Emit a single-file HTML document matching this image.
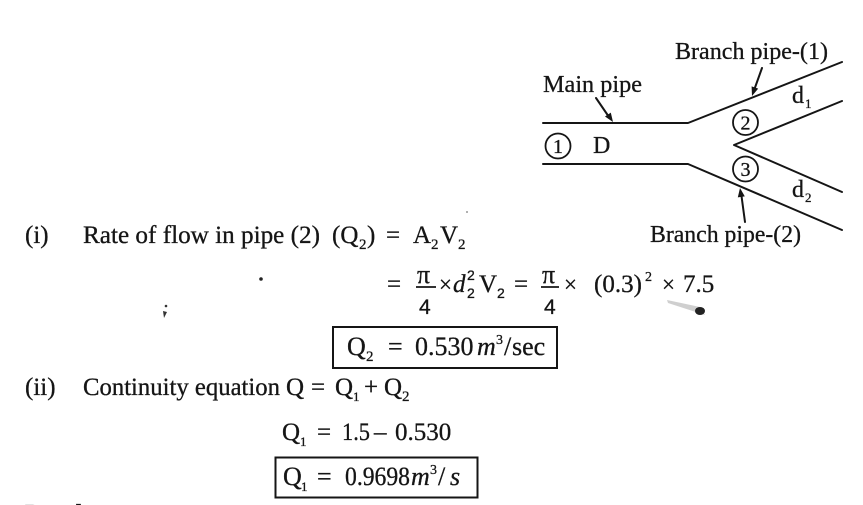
<!DOCTYPE html>
<html>
<head>
<meta charset="utf-8">
<style>
html,body{margin:0;padding:0;background:#fff;}
svg{display:block;}
text{font-family:"Liberation Serif","DejaVu Serif",serif;fill:#151515;stroke:#151515;stroke-width:0.3;}
.s{font-family:"Liberation Sans","DejaVu Sans",sans-serif;}
</style>
</head>
<body>
<svg width="863" height="505" viewBox="0 0 863 505" xmlns="http://www.w3.org/2000/svg">
<rect width="863" height="505" fill="#fff"/>

<!-- Diagram -->
<g stroke="#151515" stroke-width="2" fill="none" stroke-linecap="round" stroke-linejoin="round">
  <polyline points="543,123 688,123 842,62"/>
  <polyline points="543,164 688,164 842,230"/>
  <polyline points="842,101 734,145 842,192"/>
  <circle cx="558" cy="146" r="12.5" stroke-width="1.8"/>
  <circle cx="745.5" cy="122.5" r="12.5" stroke-width="1.8"/>
  <circle cx="745.5" cy="169" r="12.5" stroke-width="1.8"/>
  <line x1="596" y1="98" x2="609" y2="117"/>
  <line x1="762" y1="68" x2="754.5" y2="89"/>
  <line x1="745" y1="222" x2="741.5" y2="196"/>
</g>
<g fill="#151515">
  <polygon points="613,122 605,116.5 610.8,112.6"/>
  <polygon points="752,96 758.2,88.6 751.6,86.4"/>
  <polygon points="740,188 744.8,196.4 737.8,197.4"/>
</g>

<text x="675" y="59" font-size="24" textLength="153" lengthAdjust="spacingAndGlyphs">Branch pipe-(1)</text>
<text x="543" y="92" font-size="24" textLength="99" lengthAdjust="spacingAndGlyphs">Main pipe</text>
<text x="553" y="153" font-size="20">1</text>
<text x="740.5" y="129.5" font-size="20">2</text>
<text x="740.5" y="176" font-size="20">3</text>
<text x="593" y="153" font-size="24">D</text>
<text x="792" y="103" font-size="24">d</text>
<text x="805" y="108" font-size="13">1</text>
<text x="792" y="197" font-size="24">d</text>
<text x="805" y="202" font-size="13">2</text>
<text x="650" y="242" font-size="24" textLength="151" lengthAdjust="spacingAndGlyphs">Branch pipe-(2)</text>

<!-- Line (i) -->
<text x="25" y="243" font-size="25">(i)</text>
<text x="83" y="243" font-size="25" textLength="237" lengthAdjust="spacingAndGlyphs">Rate of flow in pipe (2)</text>
<text x="332" y="243" font-size="25">(Q</text>
<text x="359" y="249" font-size="15">2</text>
<text x="367" y="243" font-size="25">)</text>
<text x="386" y="243" font-size="25">=</text>
<text x="413" y="243" font-size="25">A</text>
<text x="431" y="249" font-size="15">2</text>
<text x="440" y="243" font-size="25">V</text>
<text x="458" y="249" font-size="15">2</text>

<!-- Fraction line -->
<text x="387" y="292" font-size="25">=</text>
<text x="417" y="283" font-size="26">π</text>
<line x1="416" y1="287" x2="436" y2="287" stroke="#151515" stroke-width="1.8"/>
<text class="s" x="419" y="314" font-size="21">4</text>
<text x="439" y="292" font-size="23">×</text>
<text x="453" y="292" font-size="25" font-style="italic">d</text>
<text class="s" x="467" y="280" font-size="14">2</text>
<text class="s" x="467" y="298" font-size="14">2</text>
<text x="479" y="292" font-size="25">V</text>
<text class="s" x="497" y="298" font-size="14">2</text>
<text x="514" y="292" font-size="25">=</text>
<text x="542" y="283" font-size="26">π</text>
<line x1="541" y1="287" x2="559" y2="287" stroke="#151515" stroke-width="1.8"/>
<text class="s" x="544" y="314" font-size="21">4</text>
<text x="564" y="292" font-size="23">×</text>
<text x="594" y="292" font-size="25">(0.3)</text>
<text x="645" y="281" font-size="14">2</text>
<text x="662" y="292" font-size="23">×</text>
<text x="683" y="292" font-size="25">7.5</text>
<!-- smudge -->
<path d="M667,300 L700,307 L705,315 L668,303 Z" fill="#bbb" opacity="0.7"/>
<ellipse cx="700" cy="311" rx="5" ry="4" fill="#222"/>

<!-- Q2 box -->
<rect x="333" y="327" width="224" height="41" fill="none" stroke="#151515" stroke-width="2"/>
<text x="347" y="355" font-size="26">Q</text>
<text x="366" y="361" font-size="15">2</text>
<text x="388" y="355" font-size="26">=</text>
<text x="415" y="355" font-size="26">0.530</text>
<text x="477" y="355" font-size="26" font-style="italic">m</text>
<text x="496" y="344" font-size="14">3</text>
<text x="504" y="355" font-size="26">/</text>
<text x="512" y="355" font-size="26">sec</text>

<!-- Line (ii) -->
<text x="25" y="395" font-size="25">(ii)</text>
<text x="83" y="395" font-size="25" textLength="197" lengthAdjust="spacingAndGlyphs">Continuity equation</text>
<text x="286" y="395" font-size="25">Q</text>
<text x="311" y="395" font-size="25">=</text>
<text x="335" y="395" font-size="25">Q</text>
<text x="353" y="401" font-size="13">1</text>
<text x="364" y="395" font-size="25">+</text>
<text x="384" y="395" font-size="25">Q</text>
<text x="402" y="401" font-size="15">2</text>

<!-- Q1 line -->
<text x="282" y="440" font-size="25">Q</text>
<text x="300" y="446" font-size="13">1</text>
<text x="317" y="440" font-size="25">=</text>
<text x="342" y="440" font-size="25" textLength="28" lengthAdjust="spacingAndGlyphs">1.5</text>
<text x="374" y="440" font-size="25">–</text>
<text x="395" y="440" font-size="25">0.530</text>

<!-- Q1 box -->
<rect x="275.5" y="457.5" width="202" height="40" fill="none" stroke="#151515" stroke-width="2"/>
<text x="283" y="485" font-size="26">Q</text>
<text x="301" y="491" font-size="13">1</text>
<text x="317" y="485" font-size="26">=</text>
<text x="345" y="485" font-size="26" textLength="65" lengthAdjust="spacingAndGlyphs">0.9698</text>
<text x="411" y="485" font-size="26" font-style="italic">m</text>
<text x="430" y="474" font-size="14">3</text>
<text x="438" y="485" font-size="26">/</text>
<text x="450" y="485" font-size="26" font-style="italic">s</text>

<!-- cut-off heading -->
<text x="25" y="521" font-size="24" font-weight="bold">Result</text>

<!-- specks -->
<circle cx="261" cy="279" r="1.8" fill="#222"/>
<circle cx="166" cy="306" r="1.3" fill="#333"/>
<path d="M163,311 L167,312 L164,318 Z" fill="#333"/>
<circle cx="467" cy="212" r="0.9" fill="#777"/>
</svg>
</body>
</html>
